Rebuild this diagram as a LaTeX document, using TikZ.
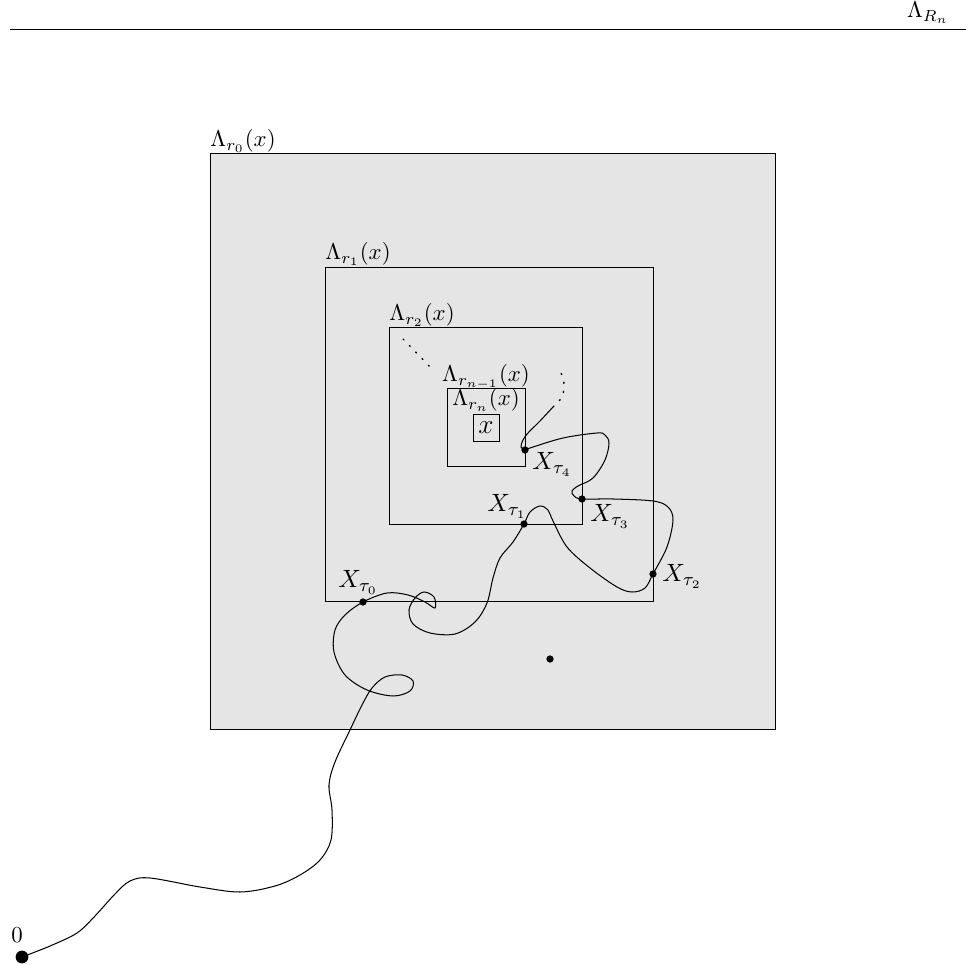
\documentclass[tikz,border=0pt]{standalone}
\begin{document}
\begin{tikzpicture}[x=0.438pt,y=-0.438pt,
  box/.style={draw=black, fill=gray!20, line width=0.4pt},
  dotpt/.style={circle, fill=black, inner sep=0pt, minimum size=3.2pt},
  bigdot/.style={circle, fill=black, inner sep=0pt, minimum size=5.6pt},
  tlabel/.style={font=\fontsize{11}{13}\selectfont, inner sep=0pt},
  blabel/.style={inner sep=0pt},
  walk/.style={line width=0.45pt, smooth, tension=0.55},
  dotwalk/.style={line width=0.6pt, smooth, tension=0.55, dash pattern=on 0.5pt off 3.5pt, line cap=round}]
\useasboundingbox (0,0) rectangle (966,965);
% header
\draw[line width=0.5pt] (10,29.5) -- (966,29.5);
\node[blabel, anchor=base] (hdr) at (928,18) {$\Lambda_{R_n}$};
% boxes
\draw[box] (210,153) rectangle (775,729);
\draw[box] (325,267) rectangle (653,601);
\draw[box] (389,327) rectangle (582,524);
\draw[box] (447,388) rectangle (525,466);
\node[draw, inner sep=0pt, minimum width=11.4pt, minimum height=11.6pt, font=\large] (xb) at (486,428) {$x$};
% box labels
\node[blabel, anchor=base west] (l0) at (210,147) {$\Lambda_{r_0}(x)$};
\node[blabel, anchor=base west] (l1) at (325,260) {$\Lambda_{r_1}(x)$};
\node[blabel, anchor=base west] (l2) at (389,321) {$\Lambda_{r_2}(x)$};
\node[blabel, anchor=base] (ln1) at (486,382) {$\Lambda_{r_{n-1}}(x)$};
\node[blabel, anchor=base] (ln) at (486,406) {$\Lambda_{r_n}(x)$};
% dotted line
\draw[dotwalk] (403,339) -- (433,370);
% walk
\draw[walk] plot coordinates {(22,957) (50,946) (77,933) (95,916) (115,894) (130,881) (150,878) (200,887) (240,892) (275,886) (300,875) (320,860) (331,840) (332,810) (329,785) (335,762) (350,730) (362,705) (372,688) (385,677) (402,675) (413,681) (410,691) (393,696) (367,690) (345,675) (334,652) (335,630) (345,615) (363,602) (387,593) (408,595) (425,602) (435,608) (434,597) (424,592) (415,598) (409,610) (413,624) (430,633) (455,634) (475,622) (487,603) (493,578) (500,558) (513,542) (524,524) (530,512) (540,506) (548,510) (553,521) (567,547) (590,568) (617,587) (632,592) (645,588) (653,574) (667,547) (673,520) (668,507) (653,501) (613,499) (582,499) (574,496) (572,491) (578,486) (593,478) (605,460) (609,443) (605,435) (597,433) (563,438) (530,448) (525,450) (521,447) (523,440) (528,433) (540,421) (553,407)};
\draw[dotwalk] plot coordinates {(553,407) (562,397) (564,385) (562,375) (557,368)};
% points
\node[bigdot] (o) at (22,957) {};
\node[blabel, anchor=base] (olab) at (17,942) {$0$};
\node[dotpt] (t0) at (363,602) {};
\node[dotpt] (t1) at (524,524) {};
\node[dotpt] (t2) at (653,574) {};
\node[dotpt] (t3) at (582,499) {};
\node[dotpt] (t4) at (525,450) {};
\node[dotpt] (y) at (550,659) {};
% tau labels
\node[tlabel, anchor=base west] (lt0) at (338,588) {$X_{\tau_0}$};
\node[tlabel, anchor=base west] (lt1) at (487,512) {$X_{\tau_1}$};
\node[tlabel, anchor=base west] (lt2) at (662,582) {$X_{\tau_2}$};
\node[tlabel, anchor=base west] (lt3) at (590,522) {$X_{\tau_3}$};
\node[tlabel, anchor=base west] (lt4) at (532,470) {$X_{\tau_4}$};
\end{tikzpicture}
\end{document}
